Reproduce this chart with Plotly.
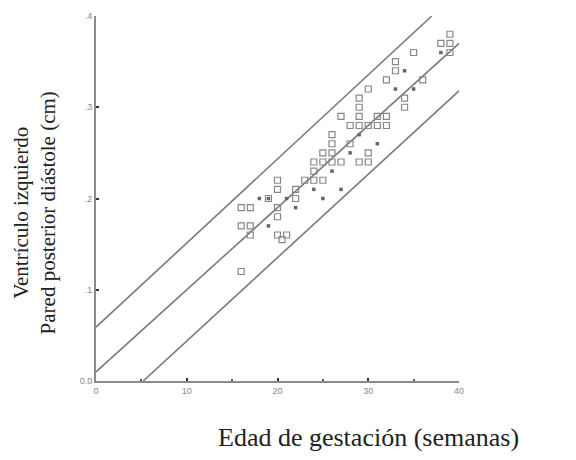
import plotly.graph_objects as go

# Open squares: gestational age (weeks), LV posterior wall in diastole (cm)
sq_weeks = [16, 17, 16, 17, 17, 16,
            19, 20, 20, 20, 20, 20, 21, 20.5,
            22, 22, 23,
            24, 24, 25, 25, 25, 24,
            26, 26, 26, 26,
            27, 27,
            28, 28,
            29, 29, 29, 29, 29,
            30, 30, 30, 30,
            31, 31,
            32, 32, 32,
            33, 33,
            34, 34,
            35, 36,
            38, 39, 39, 39]
sq_cm = [0.19, 0.19, 0.17, 0.17, 0.16, 0.12,
         0.20, 0.22, 0.21, 0.19, 0.18, 0.16, 0.16, 0.155,
         0.20, 0.21, 0.22,
         0.24, 0.23, 0.25, 0.24, 0.22, 0.22,
         0.27, 0.26, 0.25, 0.24,
         0.29, 0.24,
         0.28, 0.26,
         0.31, 0.30, 0.29, 0.28, 0.24,
         0.32, 0.28, 0.25, 0.24,
         0.29, 0.28,
         0.29, 0.28, 0.33,
         0.35, 0.34,
         0.31, 0.30,
         0.36, 0.33,
         0.37, 0.38, 0.37, 0.36]

# Filled dots
dot_weeks = [18, 19, 19, 21, 22, 24, 25, 26, 27, 28, 29, 31, 33, 34, 35, 38]
dot_cm = [0.20, 0.17, 0.20, 0.20, 0.19, 0.21, 0.20, 0.23, 0.21, 0.25, 0.27, 0.26, 0.32, 0.34, 0.32, 0.36]

# Regression line and prediction limits (end points)
mid_weeks = [0, 40]
mid_cm = [0.010, 0.370]
up_weeks = [0, 37.0]
up_cm = [0.059, 0.400]
low_weeks = [5.2, 40]
low_cm = [0.0, 0.318]

line_col = "#7a7a7a"
fig = go.Figure()
for xs, ys in [(mid_weeks, mid_cm), (up_weeks, up_cm), (low_weeks, low_cm)]:
    fig.add_trace(go.Scatter(x=xs, y=ys, mode="lines",
                             line=dict(color=line_col, width=1.6),
                             showlegend=False, hoverinfo="skip"))
fig.add_trace(go.Scatter(x=sq_weeks, y=sq_cm, mode="markers",
                         marker=dict(symbol="square-open", size=6, color="#888",
                                     line=dict(width=1.2, color="#888")),
                         showlegend=False))
fig.add_trace(go.Scatter(x=dot_weeks, y=dot_cm, mode="markers",
                         marker=dict(symbol="square", size=3.5, color="#666"),
                         showlegend=False))

fig.update_layout(
    width=576, height=460,
    margin=dict(l=96, r=117, t=16, b=79),
    plot_bgcolor="white", paper_bgcolor="white",
    font=dict(family="Liberation Sans", size=9, color="#888"),
)
fig.update_xaxes(range=[0, 40], tickvals=[0, 10, 20, 30, 40],
                 ticktext=["0", "10", "20", "30", "40"],
                 showgrid=False, zeroline=False, showline=True,
                 linecolor="#8a8a8a", linewidth=2, ticks="inside",
                 ticklen=3, tickcolor="#333", tickwidth=2,
                 minor=dict(tickvals=[5, 15, 25, 35], ticks="inside", ticklen=2,
                            tickcolor="#555", tickwidth=1.5),
                 tickfont=dict(size=9, color="#888"))
fig.update_yaxes(range=[0, 0.4], tickvals=[0, 0.1, 0.2, 0.3, 0.4],
                 ticktext=["0.0", ".1", ".2", ".3", ".4"],
                 showgrid=False, zeroline=False, showline=True,
                 linecolor="#8a8a8a", linewidth=2, ticks="inside",
                 ticklen=3, tickcolor="#333", tickwidth=2,
                 tickfont=dict(size=9, color="#888"))

fig.add_annotation(text="Ventrículo izquierdo<br>Pared posterior diástole (cm)",
                   xref="paper", yref="paper", x=-0.17, y=0.46,
                   textangle=-90, showarrow=False, align="center",
                   font=dict(family="Liberation Serif", size=21, color="#222"),
                   xanchor="center", yanchor="middle")
fig.add_annotation(text="Edad de gestación (semanas)",
                   xref="paper", yref="paper", x=0.75, y=-0.156,
                   showarrow=False,
                   font=dict(family="Liberation Serif", size=26, color="#222"),
                   xanchor="center", yanchor="middle")

fig.write_html("out.html")
